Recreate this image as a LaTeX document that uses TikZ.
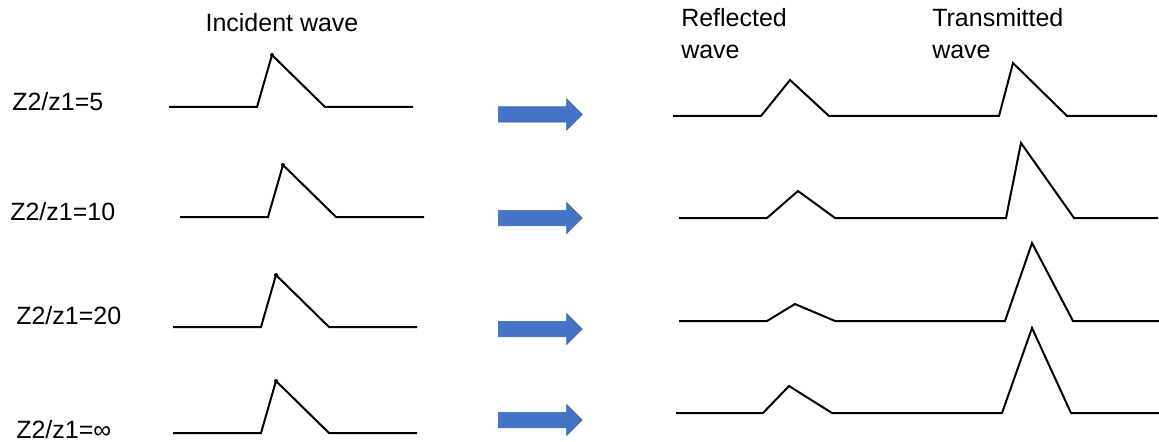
\documentclass[tikz,border=0pt]{standalone}
\usepackage{fontspec}
\setmainfont{Liberation Sans}
\usetikzlibrary{shapes.arrows}
\definecolor{arrowfill}{HTML}{4472C4}
\definecolor{arrowedge}{HTML}{3A62AE}
\tikzset{
  every picture/.style={font=\fontsize{18.75}{24}\selectfont},
  pulse/.style={draw=black,line width=1.5pt,line join=miter},
  tag/.style={anchor=base west,inner sep=0pt},
  heading/.style={tag,align=left},
  crest/.style={circle,fill=black,inner sep=0pt,minimum size=3pt},
  blockarrow/.style={single arrow,fill=arrowfill,draw=arrowedge,line width=0.4pt,
    minimum height=63pt,inner xsep=0pt,inner ysep=5.6pt,
    single arrow head extend=6pt,single arrow tip angle=90,anchor=west},
}
\begin{document}
\begin{tikzpicture}[x=0.75pt,y=-0.75pt]
  \path[use as bounding box] (0,0) rectangle (1159,442);
  % column headings (base of a two-line node is its last line)
  \node[anchor=base,inner sep=0pt] (incident) at (282,32) {Incident wave};
  \node[heading] (reflected) at (681,59) {Reflected\\wave};
  \node[heading] (transmitted) at (932,59) {Transmitted\\wave};
  % one row per impedance ratio: label, incident pulse, arrow
  \foreach \i/\base/\xs/\lx/\ly/\ay/\ratio in {1/107/169/12/111/114.5/5,
      2/217/180/10/220/218/10, 3/327/173/16/324/329/20, 4/433/173/16/438/420/∞} {
    \node[tag] (ratio\i) at (\lx,\ly) {Z2/z1=\ratio};
    \draw[pulse] (\xs,\base) -- ++(88,0) -- ++(15,-52) -- ++(53,52) -- ++(88,0);
    \node[crest] (crest\i) at (\xs+103,\base-52) {};
    \node[blockarrow] (arrow\i) at (498,\ay) {};
  }
  % reflected + transmitted pulses on a common line
  \draw[pulse] (673,116) -- (761,116) -- (790,80) -- (829,116) -- (999,116)
    -- (1013,63) -- (1067,116) -- (1157,116);
  \draw[pulse] (679,218) -- (767,218) -- (798,191) -- (835,218) -- (1006,218)
    -- (1021,143) -- (1074,218) -- (1158,218);
  \draw[pulse] (679,321) -- (767,321) -- (795,304) -- (835,321) -- (1005,321)
    -- (1032,243) -- (1073,321) -- (1159,321);
  \draw[pulse] (676,413) -- (763,413) -- (789,386) -- (832,413) -- (1002,413)
    -- (1032,328) -- (1071,413) -- (1159,413);
\end{tikzpicture}
\end{document}
